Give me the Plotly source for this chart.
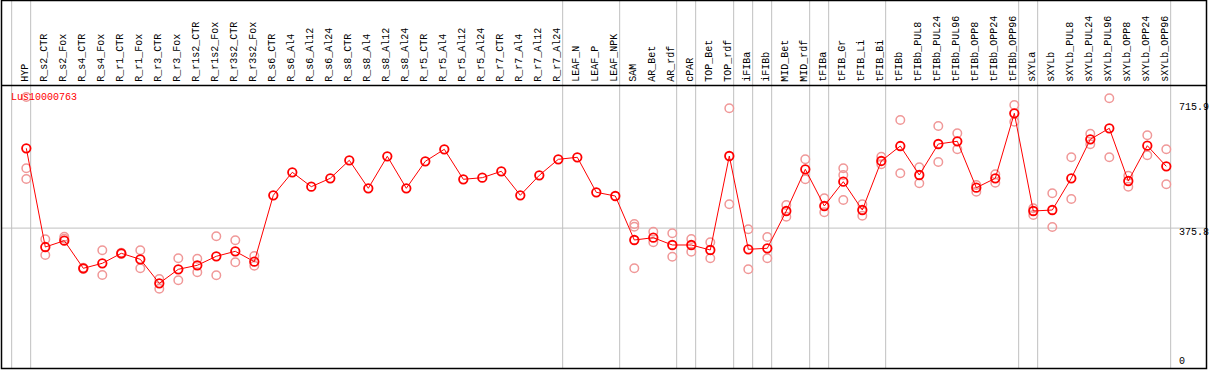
import plotly.graph_objects as go

categories = ["HYP", "R_s2_CTR", "R_s2_Fox", "R_s4_CTR", "R_s4_Fox", "R_r1_CTR", "R_r1_Fox",
              "R_r3_CTR", "R_r3_Fox", "R_r1s2_CTR", "R_r1s2_Fox", "R_r3s2_CTR", "R_r3s2_Fox",
              "R_s6_CTR", "R_s6_Al4", "R_s6_Al12", "R_s6_Al24", "R_s8_CTR", "R_s8_Al4", "R_s8_Al12",
              "R_s8_Al24", "R_r5_CTR", "R_r5_Al4", "R_r5_Al12", "R_r5_Al24", "R_r7_CTR", "R_r7_Al4",
              "R_r7_Al12", "R_r7_Al24", "LEAF_N", "LEAF_P", "LEAF_NPK", "SAM", "AR_Bet", "AR_rdf",
              "cPAR", "TOP_Bet", "TOP_rdf", "iFIBa", "iFIBb", "MID_Bet", "MID_rdf", "tFIBa",
              "tFIB_Gr", "tFIB_Li", "tFIB_Bi", "tFIBb", "tFIBb_PUL8", "tFIBb_PUL24", "tFIBb_PUL96",
              "tFIBb_OPP8", "tFIBb_OPP24", "tFIBb_OPP96", "sXYLa", "sXYLb", "sXYLb_PUL8",
              "sXYLb_PUL24", "sXYLb_PUL96", "sXYLb_OPP8", "sXYLb_OPP24", "sXYLb_OPP96"]

means = [600.3, 322.6, 340.4, 262.7, 276.8, 304.9, 288.0, 220.5, 259.9, 271.2, 296.5, 310.5, 281.3,
         468.1, 532.8, 492.3, 515.9, 566.5, 487.8, 577.8, 487.8, 563.7, 597.5, 513.1, 517.6, 535.6,
         468.1, 524.3, 569.3, 575.0, 476.5, 466.1, 342.3, 348.8, 328.3, 328.3, 314.2, 578.6, 316.2,
         319.0, 423.9, 541.2, 438.0, 506.3, 426.7, 564.6, 606.7, 525.2, 612.4, 620.0, 489.4, 515.9,
         698.7, 423.9, 426.7, 515.9, 625.6, 656.5, 508.3, 607.6, 549.6]

rep_a = [744.6, 344.3, 351.6, 264.0, 313.4, 306.6, 313.4, 232.6, 290.9, 289.7, 352.7, 341.5, 297.3,
         None, None, None, None, None, None, None, None, None, None, None, None, None, None, None,
         None, None, None, None, 387.3, 365.7, 361.2, 345.1, 335.9, 712.8, 372.4, 350.8, 440.8,
         569.3, 459.6, 544.0, 442.7, 576.6, 679.9, 546.8, 663.0, 642.5, 497.0, 527.1, 722.1,
         431.5, 473.7, 575.0, 641.3, 740.9, 523.2, 636.8, 597.5]
rep_b = [544.0, 300.1, 346.0, 261.0, 243.9, 302.9, 262.7, 205.3, 229.0, 251.5, 243.0, 279.6, 270.0,
         None, None, None, None, None, None, None, None, None, None, None, None, None, None, None,
         None, None, None, None, 379.7, 335.9, 295.4, 309.4, 290.9, 442.7, 259.9, 290.9, 407.9,
         513.1, 420.2, 525.2, 410.7, 555.3, 529.9, 501.8, 561.7, 597.5, 478.2, 503.5, 675.1,
         412.6, 378.9, 457.7, 611.5, 575.0, 492.3, 580.6, 499.0]
rep_c = [513.9, None, None, None, None, None, None, None, None, None, None, None, None,
         None, None, None, None, None, None, None, None, None, None, None, None, None, None, None,
         None, None, None, None, 262.7, None, None, None, None, None, None, None, None,
         None, None, 454.8, None, None, None, None, None, None, None, None, None,
         None, None, None, None, None, None, None, None]

group_sizes = [1, 28, 3, 3, 1, 2, 1, 1, 2, 1, 3, 7, 1, 7]
gene_id = "Lus10000763"
y_tick_values = [715.9, 375.8, 0]
y_tick_labels = ["715.9", "375.8", "0"]

W, H = 1209, 370
# pixel mapping: x_px = 26.3 + 19*i ; y_px = 361.7 - 0.3555*v
x0_px, dx_px = 26.3, 19.0
y0_px, dy_px = 361.7, 0.3555
x_range = [(0 - x0_px) / dx_px, (W - x0_px) / dx_px]
y_range = [(y0_px - H) / dy_px, y0_px / dy_px]

def py(px):
    return 1 - px / H

def pxx(px):
    return px / W

font = "Liberation Mono, DejaVu Sans Mono, monospace"
idx = list(range(len(categories)))

fig = go.Figure()

for reps in (rep_a, rep_b, rep_c):
    xs = [i for i, v in zip(idx, reps) if v is not None]
    ys = [v for v in reps if v is not None]
    fig.add_trace(go.Scatter(x=xs, y=ys, mode="markers",
                             marker=dict(symbol="circle-open", size=8.5, color="#f09898",
                                         line=dict(width=1.5, color="#f09898")),
                             showlegend=False, hoverinfo="skip"))

fig.add_trace(go.Scatter(x=idx, y=means, mode="lines+markers",
                         line=dict(color="#ff0000", width=1),
                         marker=dict(symbol="circle-open", size=8.5, color="#ff0000",
                                     line=dict(width=1.8, color="#ff0000")),
                         showlegend=False, hoverinfo="skip"))

shapes = []
boundaries = [-1]
acc = -1
for g in group_sizes:
    acc += g
    boundaries.append(acc)
for b in boundaries:
    shapes.append(dict(type="line", xref="x", yref="paper", x0=b + 0.23, x1=b + 0.23,
                       y0=py(368.5), y1=1, line=dict(color="#c0c0c0", width=1), layer="below"))
shapes.append(dict(type="line", xref="paper", yref="y", x0=pxx(1.5), x1=pxx(1206.5),
                   y0=y_tick_values[1], y1=y_tick_values[1],
                   line=dict(color="#c0c0c0", width=1), layer="below"))
shapes.append(dict(type="rect", xref="paper", yref="paper", x0=pxx(1.5), x1=pxx(1206.5),
                   y0=py(368.5), y1=py(0.5), line=dict(color="black", width=1.5)))
shapes.append(dict(type="line", xref="paper", yref="paper", x0=pxx(1.5), x1=pxx(1206.5),
                   y0=py(85.5), y1=py(85.5), line=dict(color="black", width=1.5)))

annotations = []
for i, c in enumerate(categories):
    annotations.append(dict(x=i - 0.06, y=py(83.5), xref="x", yref="paper", text=c,
                            textangle=-90, showarrow=False, xanchor="center", yanchor="bottom",
                            font=dict(family=font, size=10, color="black")))
annotations.append(dict(x=pxx(8.5), y=py(97), xref="paper", yref="paper", text=gene_id,
                        showarrow=False, xanchor="left", yanchor="middle",
                        font=dict(family=font, size=10, color="#ff0000")))
label_offsets = [0, 4, 0]
for v, t, off in zip(y_tick_values, y_tick_labels, label_offsets):
    ypx = y0_px - dy_px * v + off
    annotations.append(dict(x=pxx(1177), y=py(ypx), xref="paper", yref="paper", text=t,
                            showarrow=False, xanchor="left", yanchor="middle",
                            font=dict(family=font, size=10, color="black")))

fig.update_layout(
    width=W, height=H,
    margin=dict(l=0, r=0, t=0, b=0),
    paper_bgcolor="white", plot_bgcolor="white",
    xaxis=dict(range=x_range, visible=False, fixedrange=True),
    yaxis=dict(range=y_range, visible=False, fixedrange=True),
    shapes=shapes, annotations=annotations,
)

fig.write_html("out.html", config={"displayModeBar": False},
               post_script="document.body.style.margin='0';document.body.style.overflow='hidden';")
